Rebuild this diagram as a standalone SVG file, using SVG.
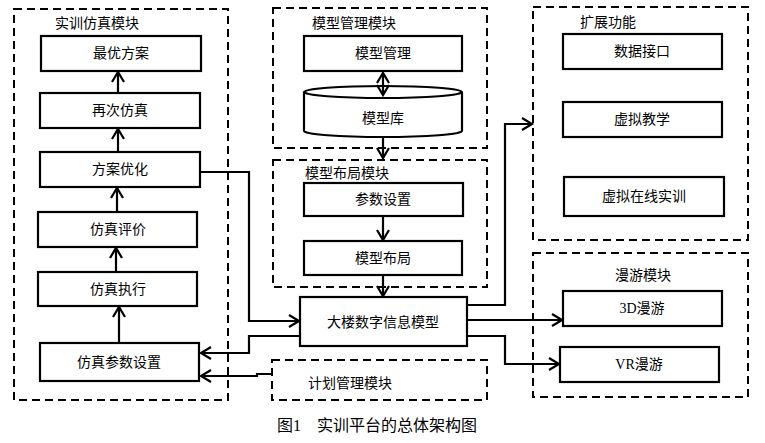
<svg xmlns="http://www.w3.org/2000/svg" width="765" height="443" viewBox="0 0 765 443">
<style>
.box{fill:#fff;stroke:#000;stroke-width:2.2}
.grp{fill:none;stroke:#000;stroke-width:2;stroke-dasharray:8,5}
.t{font-family:"Liberation Serif","Noto Sans CJK SC",serif;font-size:14px;fill:#000;text-anchor:middle}
.tl{font-family:"Liberation Serif","Noto Sans CJK SC",serif;font-size:14px;fill:#000}
.cap{font-family:"Liberation Serif","Noto Sans CJK SC",serif;font-size:16px;fill:#000}
.ln{fill:none;stroke:#000;stroke-width:2.2}
</style>
<defs>
<marker id="ah" markerUnits="userSpaceOnUse" markerWidth="14" markerHeight="16" refX="11" refY="7" orient="auto-start-reverse">
<path d="M1,1 L11,7 L1,13" fill="none" stroke="#000" stroke-width="2.2"/>
</marker>
</defs>
<rect width="765" height="443" fill="#fff"/>

<g id="sim-module">
<rect class="grp" x="14" y="9" width="214" height="391"/>
<text class="tl" x="55" y="28">实训仿真模块</text>
</g>
<g id="n-best"><rect class="box" x="41" y="36" width="160" height="35"/><text class="t" x="121" y="58">最优方案</text></g>
<g id="n-resim"><rect class="box" x="40" y="93" width="160" height="35"/><text class="t" x="120" y="115">再次仿真</text></g>
<g id="n-opt"><rect class="box" x="40" y="152" width="160" height="35"/><text class="t" x="120" y="174">方案优化</text></g>
<g id="n-eval"><rect class="box" x="38" y="212" width="159" height="35"/><text class="t" x="118" y="234">仿真评价</text></g>
<g id="n-exec"><rect class="box" x="38" y="272" width="159" height="34"/><text class="t" x="118" y="294">仿真执行</text></g>
<g id="n-param"><rect class="box" x="40" y="343" width="159" height="38"/><text class="t" x="119" y="367">仿真参数设置</text></g>

<g id="mm-module">
<rect class="grp" x="273" y="8" width="214" height="140"/>
<text class="tl" x="312" y="28">模型管理模块</text>
</g>
<g id="n-mm"><rect class="box" x="304" y="36" width="158" height="35"/><text class="t" x="383" y="58">模型管理</text></g>
<g id="n-lib">
<path class="box" d="M304,92 L304,131 A79,6 0 0 0 462,131 L462,92"/>
<ellipse class="box" cx="383" cy="92" rx="79" ry="6"/>
<text class="t" x="383" y="123">模型库</text>
</g>

<g id="ml-module">
<rect class="grp" x="273" y="160" width="214" height="127"/>
<text class="tl" x="305" y="178">模型布局模块</text>
</g>
<g id="n-pset"><rect class="box" x="304" y="183" width="159" height="33"/><text class="t" x="383" y="204">参数设置</text></g>
<g id="n-layout"><rect class="box" x="304" y="241" width="158" height="34"/><text class="t" x="383" y="263">模型布局</text></g>

<g id="n-bim"><rect class="box" x="300" y="297" width="167" height="49"/><text class="t" x="383" y="327">大楼数字信息模型</text></g>

<g id="plan-module">
<rect class="grp" x="272" y="360" width="215" height="40"/>
<text class="tl" x="308" y="388">计划管理模块</text>
</g>

<g id="ext-module">
<rect class="grp" x="533" y="7" width="215" height="233"/>
<text class="tl" x="580" y="27">扩展功能</text>
</g>
<g id="n-data"><rect class="box" x="563" y="34" width="159" height="35"/><text class="t" x="642" y="56">数据接口</text></g>
<g id="n-teach"><rect class="box" x="563" y="102" width="159" height="35"/><text class="t" x="642" y="124">虚拟教学</text></g>
<g id="n-online"><rect class="box" x="564" y="177" width="160" height="39"/><text class="t" x="644" y="201">虚拟在线实训</text></g>

<g id="roam-module">
<rect class="grp" x="533" y="253" width="215" height="144"/>
<text class="tl" x="615" y="280">漫游模块</text>
</g>
<g id="n-3d"><rect class="box" x="563" y="291" width="159" height="35"/><text class="t" x="642" y="313">3D漫游</text></g>
<g id="n-vr"><rect class="box" x="560" y="347" width="159" height="35"/><text class="t" x="639" y="369">VR漫游</text></g>

<g id="connectors">
<path class="ln" d="M118,93 L118,72" marker-end="url(#ah)"/>
<path class="ln" d="M118,152 L118,129" marker-end="url(#ah)"/>
<path class="ln" d="M117,212 L117,188" marker-end="url(#ah)"/>
<path class="ln" d="M116,272 L116,248" marker-end="url(#ah)"/>
<path class="ln" d="M119,343 L119,307" marker-end="url(#ah)"/>
<path class="ln" d="M200,172 L249,172 L249,321 L299,321" marker-end="url(#ah)"/>
<path class="ln" d="M300,336 L249,336 L249,353 L201,353" marker-end="url(#ah)"/>
<path class="ln" d="M272,374 L257,374 L257,376 L201,376" marker-end="url(#ah)"/>
<path class="ln" d="M383,73 L383,95" marker-start="url(#ah)" marker-end="url(#ah)"/>
<path class="ln" d="M383,137 L383,158" marker-end="url(#ah)"/>
<path class="ln" d="M383,216 L383,240" marker-end="url(#ah)"/>
<path class="ln" d="M383,275 L383,296" marker-end="url(#ah)"/>
<path class="ln" d="M467,305 L505,305 L505,124 L532,124" marker-end="url(#ah)"/>
<path class="ln" d="M467,320 L562,320" marker-end="url(#ah)"/>
<path class="ln" d="M467,336 L505,336 L505,364 L559,364" marker-end="url(#ah)"/>
</g>

<text class="cap" x="277" y="431">图1　实训平台的总体架构图</text>
</svg>
